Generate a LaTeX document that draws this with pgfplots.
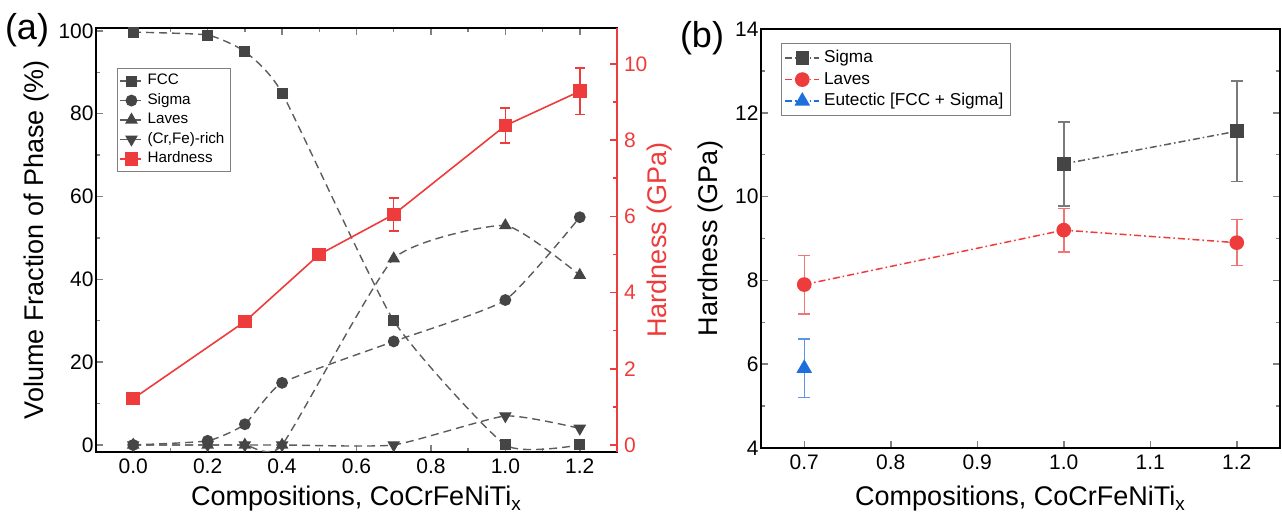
\documentclass[border=0pt]{standalone}
\usepackage{pgfplots}
\pgfplotsset{compat=1.18}
\usepackage{fontspec}
\setmainfont{Liberation Sans}

\definecolor{dgray}{HTML}{454545}
\definecolor{lgray}{HTML}{5C5C5C}
\definecolor{bgray}{HTML}{7A7A7A}
\definecolor{hred}{HTML}{EE3B3B}
\definecolor{lred}{HTML}{F07575}
\definecolor{hblue}{HTML}{1E6FDC}
\definecolor{lblue}{HTML}{5A95E6}

\pgfplotsset{
  /pgf/number format/assume math mode=true,
  every axis/.append style={
    scale only axis,
    axis line style={line width=0.75pt},
    tick style={line width=0.75pt},
    major tick length=3.5pt, minor tick length=2pt,
    tick label style={font=\fontsize{10.5}{12}\selectfont},
    label style={font=\fontsize{13.5}{16}\selectfont},
    legend cell align=left,
  },
  dsh/.style={dash pattern=on 4pt off 2.5pt},
  dshdot/.style={dash pattern=on 3.5pt off 1.5pt on 0.8pt off 1.5pt},
}

\begin{document}
\begin{tikzpicture}
\useasboundingbox (0,0) rectangle (641pt,-256pt);

% (a) phase fractions
\begin{axis}[
  at={(48pt,-14pt)}, anchor=north west,
  width=260.5pt, height=212pt,
  xmin=-0.1, xmax=1.3, ymin=-1.7, ymax=100.7,
  xtick={0,0.2,0.4,0.6,0.8,1.0,1.2}, minor x tick num=1,
  ytick={0,20,40,60,80,100}, minor y tick num=1,
  xtick pos=both, ytick pos=left,
  xticklabel style={/pgf/number format/.cd, fixed, fixed zerofill, precision=1},
  yticklabel style={inner xsep=1pt},
  xlabel={Compositions, CoCrFeNiTi\textsubscript{x}},
  xlabel style={at={(axis description cs:0.5,-0.127)}, anchor=base},
  ylabel={Volume Fraction of Phase (\%)},
  ylabel style={at={(axis description cs:-0.115,0.5)}, anchor=center},
  legend style={at={(0.04,0.906)}, anchor=north west,
    font=\fontsize{7.6}{8.5}\selectfont, draw=gray, line width=0.5pt,
    inner sep=1pt, row sep=-1.2pt},
  legend image code/.code={\draw[mark repeat=2,mark phase=2]
    plot coordinates {(0cm,0cm) (0.2cm,0cm) (0.4cm,0cm)};},
]
\addplot[lgray, dsh, line width=0.7pt, smooth, tension=0.3,
  mark=square*, mark size=2.4pt, mark options={solid, dgray, fill=dgray}]
  coordinates {(0,99.7) (0.2,99) (0.3,95) (0.4,85) (0.7,30) (1.0,0) (1.2,0)};
\addlegendentry{FCC}
\addplot[lgray, dsh, line width=0.7pt, smooth, tension=0.3,
  mark=*, mark size=2.6pt, mark options={solid, dgray, fill=dgray}]
  coordinates {(0,0) (0.2,1) (0.3,5) (0.4,15) (0.7,25) (1.0,35) (1.2,55)};
\addlegendentry{Sigma}
\addplot[lgray, dsh, line width=0.7pt, smooth, tension=0.3,
  mark=triangle*, mark size=3pt, mark options={solid, dgray, fill=dgray}]
  coordinates {(0,0) (0.2,0) (0.3,0) (0.4,0) (0.7,45) (1.0,53) (1.2,41)};
\addlegendentry{Laves}
\addplot[lgray, dsh, line width=0.7pt, smooth, tension=0.3,
  mark=triangle*, mark size=3pt, mark options={solid, dgray, fill=dgray, rotate=180}]
  coordinates {(0,0) (0.2,0) (0.3,0) (0.4,0) (0.7,0) (1.0,7) (1.2,4)};
\addlegendentry{(Cr,Fe)-rich}
\addlegendimage{hred, line width=0.75pt, dsh, mark=square*, mark size=3pt, mark options={solid, fill=hred}}
\addlegendentry{Hardness}
\end{axis}

% (a) hardness, right axis
\begin{axis}[
  at={(48pt,-14pt)}, anchor=north west,
  width=260.5pt, height=212pt,
  xmin=-0.1, xmax=1.3, ymin=-0.18, ymax=10.94,
  axis x line=none, axis y line*=right,
  ytick={0,2,4,6,8,10}, minor y tick num=1,
  y axis line style={hred}, ytick style={hred},
  yticklabel style={hred},
  ylabel={Hardness (GPa)},
  ylabel style={hred, at={(axis description cs:1.0825,0.5)}, anchor=center},
]
\addplot[hred, line width=0.8pt, mark=square*, mark size=3pt, mark options={fill=hred}]
  coordinates {(0,1.22) (0.3,3.24) (0.5,5.0) (0.7,6.05) (1.0,8.38) (1.2,9.28)};
\addplot[hred, only marks, mark=square*, mark size=3pt, mark options={fill=hred},
  error bars/.cd, y dir=both, y explicit,
  error bar style={hred, line width=0.75pt},
  error mark options={rotate=90, hred, mark size=2.5pt, line width=0.75pt}]
  coordinates {(0.7,6.05) +- (0,0.43) (1.0,8.38) +- (0,0.46) (1.2,9.28) +- (0,0.61)};
\end{axis}

% (b) hardness of phases
\begin{axis}[
  at={(380.5pt,-14.5pt)}, anchor=north west,
  width=259.5pt, height=209.5pt,
  xmin=0.65, xmax=1.25, ymin=4, ymax=14,
  xtick={0.7,0.8,0.9,1.0,1.1,1.2},
  ytick={4,6,8,10,12,14}, minor y tick num=1,
  xtick pos=left, ytick pos=both,
  xticklabel style={/pgf/number format/.cd, fixed, fixed zerofill, precision=1},
  yticklabel style={inner xsep=1pt},
  xlabel={Compositions, CoCrFeNiTi\textsubscript{x}},
  xlabel style={at={(axis description cs:0.5,-0.138)}, anchor=base},
  ylabel={Hardness (GPa)},
  ylabel style={at={(axis description cs:-0.098,0.5)}, anchor=center},
  legend style={at={(0.0385,0.967)}, anchor=north west,
    font=\fontsize{8.6}{10}\selectfont, draw=gray, line width=0.5pt,
    inner sep=1.5pt, row sep=-0.8pt},
  legend image code/.code={\draw[mark repeat=2,mark phase=2]
    plot coordinates {(0cm,0cm) (0.3cm,0cm) (0.6cm,0cm)};},
]
\addplot[lgray, dshdot, line width=0.75pt,
  mark=square*, mark size=3pt, mark options={solid, dgray, fill=dgray},
  error bars/.cd, y dir=both, y explicit,
  error bar style={bgray, solid, line width=0.75pt},
  error mark options={rotate=90, bgray, solid, mark size=3pt, line width=0.75pt}]
  coordinates {(1.0,10.78) +- (0,1.0) (1.2,11.56) +- (0,1.2)};
\addlegendentry{Sigma}
\addplot[hred, dshdot, line width=0.75pt,
  mark=*, mark size=3.3pt, mark options={solid, hred, fill=hred},
  error bars/.cd, y dir=both, y explicit,
  error bar style={lred, solid, line width=0.75pt},
  error mark options={rotate=90, lred, solid, mark size=3pt, line width=0.75pt}]
  coordinates {(0.7,7.9) +- (0,0.7) (1.0,9.2) +- (0,0.52) (1.2,8.9) +- (0,0.55)};
\addlegendentry{Laves}
\addplot[hblue, dshdot, line width=0.75pt,
  mark=triangle*, mark size=3.8pt, mark options={solid, hblue, fill=hblue},
  error bars/.cd, y dir=both, y explicit,
  error bar style={lblue, solid, line width=0.75pt},
  error mark options={rotate=90, lblue, solid, mark size=3pt, line width=0.75pt}]
  coordinates {(0.7,5.9) +- (0,0.7)};
\addlegendentry{Eutectic [FCC + Sigma]}
\end{axis}

\node[font=\fontsize{18}{20}\selectfont] at (13.5pt,-15pt) {(a)};
\node[font=\fontsize{18}{20}\selectfont] at (351pt,-19pt) {(b)};
\end{tikzpicture}
\end{document}
